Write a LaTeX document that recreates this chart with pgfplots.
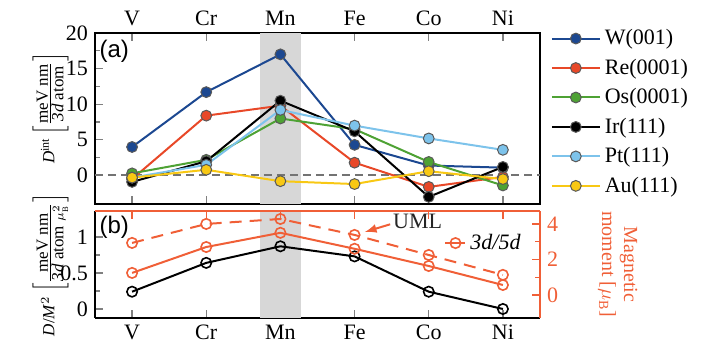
\documentclass[border=0pt]{standalone}
\usepackage{pgfplots}
\pgfplotsset{compat=1.18}
\usepackage{fontspec}
\setmainfont{Liberation Serif}
\newfontfamily\arial{Liberation Sans}
\definecolor{cW}{RGB}{28,72,145}
\definecolor{cRe}{RGB}{232,72,40}
\definecolor{cOs}{RGB}{78,162,52}
\definecolor{cIr}{RGB}{0,0,0}
\definecolor{cPt}{RGB}{125,195,235}
\definecolor{cAu}{RGB}{248,200,20}
\definecolor{cR}{RGB}{240,95,55}
\definecolor{band}{RGB}{215,215,215}
\begin{document}
\begin{tikzpicture}[font=\fontsize{11}{13}\selectfont]
\pgfplotsset{
  every axis/.append style={scale only axis, width=222.5pt, xmin=-0.5, xmax=5.5,
    tick align=inside, /pgf/number format/assume math mode=true,
    major tick length=4pt, minor tick length=2.5pt,
    axis line style={line width=0.7pt}, tick style={line width=0.6pt},
    xtick={0,1,2,3,4,5}},
  ser/.style={line width=1pt, color=#1, mark=*, mark size=2.7pt, mark options={draw=black!65, fill=#1, line width=0.5pt}},
  open/.style={line width=1pt, color=#1, mark=o, mark size=2.6pt, mark options={draw=#1, fill=white, line width=0.8pt, solid}},
}
% ---------------- top panel ----------------
\begin{axis}[at={(0,57pt)}, anchor=south west, height=85.5pt,
  ymin=-4, ymax=20, ytick={0,5,10,15,20}, minor y tick num=1, ytick pos=left,
  xticklabels={V,Cr,Mn,Fe,Co,Ni}, xtick pos=both, xticklabel pos=upper,
  ylabel={\fontsize{8.5}{10}\selectfont\textit{D}$^{\mbox{\fontsize{6}{7}\selectfont int}}\left[\frac{\mbox{meV nm}}{\mbox{\textit{3d} atom}}\right]$},
  ylabel style={at={(axis description cs:-0.10,0.56)}, anchor=center},
  legend style={at={(1.01,1.07)}, anchor=north west, draw=none, fill=none,
    row sep=1.6pt, font=\fontsize{11}{13}\selectfont, cells={anchor=west}},
  legend image code/.code={\draw[mark repeat=2, mark phase=2] plot coordinates {(0pt,0pt) (12pt,0pt) (24pt,0pt)};},
]
\fill[band] (axis cs:1.72,-4) rectangle (axis cs:2.28,20);
\draw[dash pattern=on 4pt off 2.5pt, gray!90!black, line width=1pt] (axis cs:-0.5,0) -- (axis cs:5.5,0);
\addplot[ser=cW] coordinates {(0,4.0) (1,11.7) (2,17.0) (3,4.3) (4,1.4) (5,1.1)};
\addlegendentry{W(001)}
\addplot[ser=cRe] coordinates {(0,-0.5) (1,8.4) (2,9.8) (3,1.8) (4,-1.6) (5,-0.2)};
\addlegendentry{Re(0001)}
\addplot[ser=cOs] coordinates {(0,0.3) (1,2.2) (2,8.0) (3,6.5) (4,1.9) (5,-1.4)};
\addlegendentry{Os(0001)}
\addplot[ser=cIr] coordinates {(0,-0.9) (1,2.0) (2,10.5) (3,6.2) (4,-3.0) (5,1.2)};
\addlegendentry{Ir(111)}
\addplot[ser=cPt] coordinates {(0,-0.3) (1,1.5) (2,9.2) (3,7.0) (4,5.2) (5,3.6)};
\addlegendentry{Pt(111)}
\addplot[ser=cAu] coordinates {(0,-0.3) (1,0.8) (2,-0.8) (3,-1.2) (4,0.6) (5,-0.5)};
\addlegendentry{Au(111)}
\node[anchor=north west, inner sep=1pt, font=\arial\fontsize{12}{14}\selectfont] at (rel axis cs:0.005,0.975) {(a)};
\end{axis}
% ---------------- bottom panel, left axis ----------------
\begin{axis}[at={(0,0)}, anchor=south west, height=53.5pt,
  ymin=-0.125, ymax=1.36, ytick={0,0.5,1}, yticklabels={0,0.5,1}, minor y tick num=1,
  axis x line*=bottom, axis y line*=left, axis line style={-},
  xticklabels={V,Cr,Mn,Fe,Co,Ni},
  ylabel={\fontsize{8.5}{10}\selectfont\textit{D}/\textit{M}$^2\left[\frac{\mbox{meV nm}}{\mbox{\textit{3d} atom }\mu_{\mathrm{B}}^2}\right]$},
  ylabel style={at={(axis description cs:-0.10,0.5)}, anchor=center},
]
\fill[band] (axis cs:1.72,-0.125) rectangle (axis cs:2.28,1.36);
\addplot[open=black] coordinates {(0,0.24) (1,0.64) (2,0.87) (3,0.73) (4,0.24) (5,0.0)};
\node[anchor=north west, inner sep=1pt, font=\arial\fontsize{12}{14}\selectfont] at (rel axis cs:0.005,0.97) {(b)};
\end{axis}
% ---------------- bottom panel, right axis ----------------
\begin{axis}[at={(0,0)}, anchor=south west, height=53.5pt,
  ymin=-1.3, ymax=4.73, ytick={0,2,4}, minor y tick num=1,
  axis x line*=top, axis y line*=right, axis line style={-, cR},
  xticklabels={}, tick style={cR}, yticklabel style={cR},
  ylabel={Magnetic\\moment [$\mu_{\mathrm{B}}$]},
  ylabel style={cR, rotate=180, align=center, font=\fontsize{10}{11}\selectfont,
    at={(axis description cs:1.175,0.5)}, anchor=center},
  legend style={at={(0.78,0.70)}, anchor=west, draw=none, fill=none, inner sep=1pt,
    font=\fontsize{11}{13}\selectfont\itshape},
  legend image code/.code={\draw[mark repeat=2, mark phase=2] plot coordinates {(0pt,0pt) (5pt,0pt) (10pt,0pt)};},
]
\addplot[open=cR, dashed, dash pattern=on 6pt off 4pt, forget plot] coordinates {(0,2.93) (1,4.0) (2,4.28) (3,3.38) (4,2.25) (5,1.13)};
\addplot[open=cR] coordinates {(0,1.24) (1,2.7) (2,3.5) (3,2.6) (4,1.63) (5,0.56)};
\addlegendentry{3d/5d}
\node[anchor=center, inner sep=0pt, text=black!85] at (axis cs:3.85,4.12) {UML};
\draw[cR, line width=1pt, -latex] (axis cs:3.48,3.98) -- (axis cs:3.14,3.55);
\end{axis}
\pgfresetboundingbox
\path[use as bounding box] (-47.5pt,-17pt) rectangle (306.5pt,159pt);
\end{tikzpicture}
\end{document}
